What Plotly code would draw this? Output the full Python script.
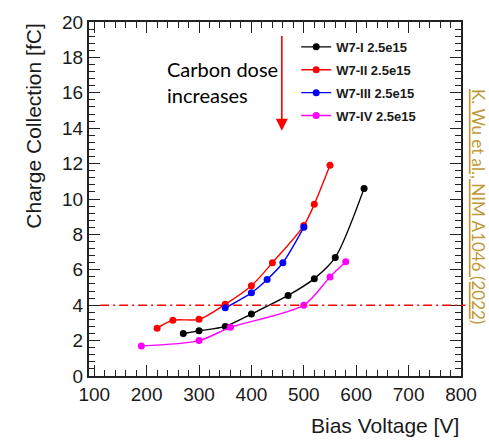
import plotly.graph_objects as go

# Charge collection vs bias voltage, four carbon-dose variants at 2.5e15
names = ["W7-I 2.5e15", "W7-II 2.5e15", "W7-III 2.5e15", "W7-IV 2.5e15"]
colors = ["#000000", "#ff0000", "#0000ff", "#ff00ff"]

v_w7_1 = [270, 300, 350, 400, 470, 520, 560, 615]
q_w7_1 = [2.4, 2.55, 2.8, 3.5, 4.55, 5.5, 6.7, 10.6]

v_w7_2 = [220, 250, 300, 350, 400, 440, 500, 520, 550]
q_w7_2 = [2.7, 3.15, 3.2, 4.05, 5.1, 6.4, 8.5, 9.7, 11.9]

v_w7_3 = [350, 400, 430, 460, 500]
q_w7_3 = [3.85, 4.7, 5.45, 6.4, 8.4]

v_w7_4 = [190, 300, 360, 500, 550, 580]
q_w7_4 = [1.7, 2.0, 2.75, 4.0, 5.6, 6.45]

voltages = [v_w7_1, v_w7_2, v_w7_3, v_w7_4]
charges = [q_w7_1, q_w7_2, q_w7_3, q_w7_4]

threshold_fc = 4.0
x_range = [90, 800]
y_range = [0, 20]
x_ticks = [100, 200, 300, 400, 500, 600, 700, 800]
y_ticks = [0, 2, 4, 6, 8, 10, 12, 14, 16, 18, 20]

fig = go.Figure()
for i in range(4):
    fig.add_trace(go.Scatter(
        x=voltages[i], y=charges[i], name=names[i],
        mode="lines+markers",
        line=dict(color=colors[i], width=1.4, shape="spline", smoothing=0.8),
        marker=dict(color=colors[i], size=7),
        legendgroup=str(i),
    ))

# empty trace that carries the top / right frame axes
fig.add_trace(go.Scatter(x=[None], y=[None], xaxis="x2", yaxis="y2",
                         showlegend=False, hoverinfo="skip"))

# 4 fC threshold
fig.add_shape(type="line", xref="paper", yref="y", x0=0.03, x1=1.012,
              y0=threshold_fc, y1=threshold_fc,
              line=dict(color="#ff0000", width=1.6, dash="9px,4px,2px,4px"))

tick_common = dict(
    showline=True, linecolor="#222222", linewidth=2,
    ticks="inside", tickcolor="#222222", tickwidth=1.3, ticklen=11,
    showgrid=False, zeroline=False,
    tickfont=dict(family="Liberation Sans, Arial", size=19, color="#1a1a1a"),
)
x_minor = dict(dtick=20, ticks="inside", ticklen=6, tickcolor="#222222", tickwidth=1.2)
y_minor = dict(dtick=0.4, ticks="inside", ticklen=6, tickcolor="#222222", tickwidth=1.2)

fig.update_layout(
    xaxis=dict(range=x_range, tickvals=x_ticks, ticktext=[str(v) for v in x_ticks],
               minor=x_minor, **tick_common),
    yaxis=dict(range=y_range, tickvals=y_ticks, ticktext=[str(v) for v in y_ticks],
               minor=y_minor, **tick_common),
    xaxis2=dict(range=x_range, tickvals=x_ticks, showticklabels=False, side="top",
                overlaying="x", anchor="y", minor=x_minor, **tick_common),
    yaxis2=dict(range=y_range, tickvals=y_ticks, showticklabels=False, side="right",
                overlaying="y", anchor="x", minor=y_minor, **tick_common),
)

fig.add_annotation(text="Bias Voltage [V]", xref="paper", yref="paper",
                   x=1.0, y=-0.14, xanchor="right", yanchor="middle", showarrow=False,
                   font=dict(family="Liberation Sans, Arial", size=21, color="#1a1a1a"))
fig.add_annotation(text="Charge Collection [fC]", xref="paper", yref="paper",
                   x=-0.15, y=1.0, xanchor="center", yanchor="top", textangle=-90,
                   showarrow=False,
                   font=dict(family="Liberation Sans, Arial", size=21, color="#1a1a1a"))

fig.add_annotation(text="Carbon dose<br>increases", xref="paper", yref="paper",
                   x=0.205, y=0.908, xanchor="left", yanchor="top", align="left",
                   showarrow=False,
                   font=dict(family="Lato", size=20, color="#000000"))

# carbon dose arrow
fig.add_annotation(x=458, y=13.85, ax=458, ay=19.3, xref="x", yref="y",
                   axref="x", ayref="y", text="", showarrow=True,
                   arrowhead=2, arrowsize=1.5, arrowwidth=1.6, arrowcolor="#ff0000")

fig.add_annotation(text="<u>K. Wu et al., NIM A1046 (2022)</u>", xref="paper", yref="paper",
                   x=1.045, y=0.478, xanchor="center", yanchor="middle", textangle=90,
                   showarrow=False,
                   font=dict(family="Lato", size=17, color="#c09a3a"))

fig.update_layout(
    width=489, height=441,
    margin=dict(l=89, r=26, t=14, b=65),
    paper_bgcolor="white", plot_bgcolor="white",
    showlegend=True,
    legend=dict(x=0.557, y=0.972, xanchor="left", yanchor="top",
                bgcolor="rgba(0,0,0,0)", itemwidth=30, tracegroupgap=3,
                font=dict(family="Liberation Sans, Arial", size=13, color="#1a1a1a",
                          weight="bold"),
                traceorder="grouped"),
)

fig.write_html("out.html")
